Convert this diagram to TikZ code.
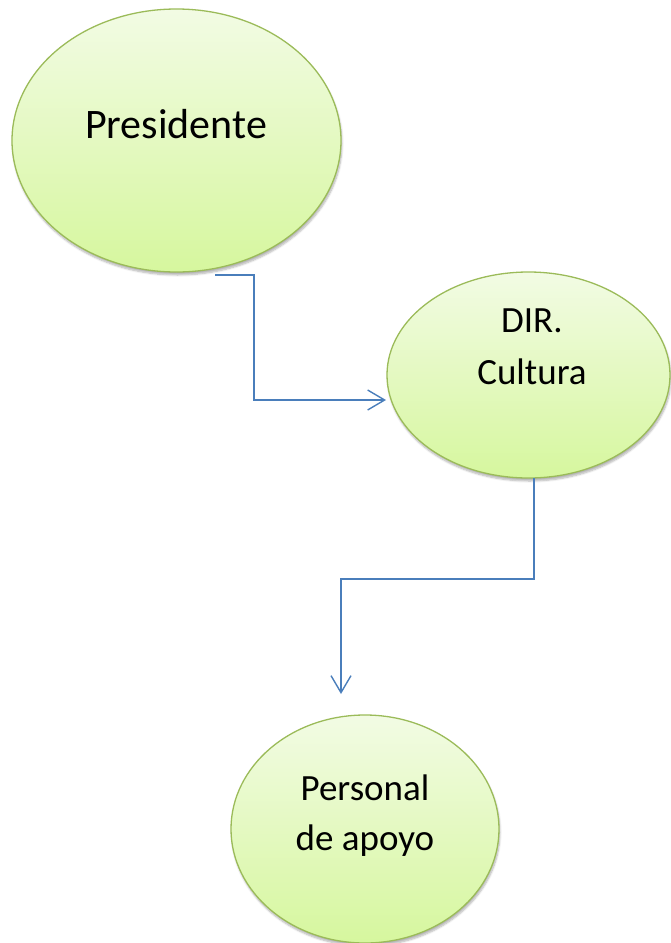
\documentclass[tikz,border=0pt]{standalone}
\usepackage{fontspec}
\setmainfont{Carlito}
\usetikzlibrary{shapes.geometric,arrows.meta,calc,shadows.blur}
\definecolor{cBorder}{RGB}{155,187,89}
\definecolor{cTop}{RGB}{242,251,228}
\definecolor{cBot}{RGB}{214,247,158}
\definecolor{cLink}{RGB}{74,126,187}
\begin{document}
\begin{tikzpicture}[x=1pt,y=-1pt,
  oval/.style={ellipse, draw=cBorder, line width=1.3pt, top color=cTop, bottom color=cBot,
    inner sep=0pt, outer sep=0pt,
    blur shadow={shadow xshift=1pt, shadow yshift=-3pt, shadow blur steps=6, shadow opacity=30}},
  link/.style={draw=cLink, line width=1.4pt, -{Straight Barb[length=17pt,width=20pt]}},
  lbl/.style={align=center, anchor=base}]
\useasboundingbox (0,0) rectangle (670,943);
\node[oval, minimum width=329pt, minimum height=263pt] (pres) at (176.5,140.5) {};
\node[oval, minimum width=283pt, minimum height=206pt] (dir) at (528.5,375) {};
\node[oval, minimum width=268pt, minimum height=228pt] (per) at (365,829) {};
\node[lbl, font=\fontsize{42}{50}\selectfont] (tpres) at (176,138) {Presidente};
\node[lbl, font=\fontsize{37}{52}\selectfont] (tdir) at (532,384) {DIR.\\Cultura};
\node[lbl, font=\fontsize{37}{50}\selectfont] (tper) at (365,850) {Personal\\de apoyo};
\draw[link] ($(pres.south)+(38.5,3)$) -- ++(39,0) |- ($(dir.west)+(-1,25)$);
\draw[link] ($(dir.south)+(5.5,0)$) -- ++(0,101) -| ($(per.north)+(-24,-21)$);
\end{tikzpicture}
\end{document}
